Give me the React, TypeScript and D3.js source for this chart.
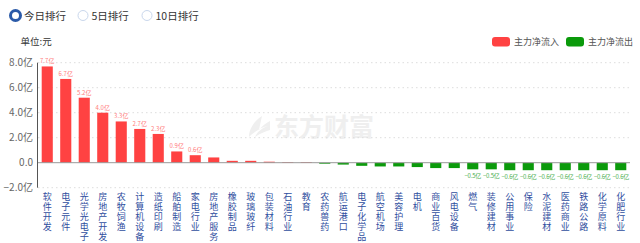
import React from "react";
import * as d3 from "d3";

const categories = [
  "软件开发", "电子元件", "光学光电子", "房地产开发", "农牧饲渔", "计算机设备", "造纸印刷", "船舶制造",
  "家电行业", "房地产服务", "橡胶制品", "玻璃玻纤", "包装材料", "石油行业", "教育", "农药兽药",
  "航运港口", "电子化学品", "航空机场", "美容护理", "电机", "商业百货", "风电设备", "燃气",
  "装修建材", "公用事业", "保险", "水泥建材", "医药商业", "铁路公路", "化学原料", "化肥行业",
];
const values = [
  7.7, 6.7, 5.2, 4.0, 3.3, 2.7, 2.3, 0.9, 0.6, 0.42, 0.15, 0.15, 0.08, 0.05, 0.05, -0.08,
  -0.15, -0.25, -0.3, -0.3, -0.35, -0.43, -0.43, -0.53, -0.53, -0.6, -0.6, -0.6, -0.6, -0.6, -0.6, -0.6,
];
const yTicks = [8, 6, 4, 2, 0, -2];
const tabs = ["今日排行", "5日排行", "10日排行"];
const legendItems = ["主力净流入", "主力净流出"];

const RED = "#ff4242";
const GREEN = "#0b9a0b";
const FONT = "'Noto Sans CJK SC', 'Noto Sans', sans-serif";

export default function App() {
  const left = 38, right = 630, top = 62.7, bottom = 187.7;
  const x = d3.scaleBand<string>().domain(categories).range([left, right]).paddingInner(0.4).paddingOuter(0.2);
  const y = d3.scaleLinear().domain([-2, 8]).range([bottom, top]);
  const fmt = (v: number) => (v === 0 ? "0.0" : d3.format(".1f")(v) + "亿");
  const tabX = [15.5, 83, 147];

  return (
    <svg width={640} height={243} style={{ position: "absolute", left: 0, top: 0 }} fontFamily={FONT}>
      <rect width={640} height={243} fill="#fff" />
      {/* tabs */}
      {tabs.map((t, i) => (
        <g key={t}>
          <circle cx={tabX[i]} cy={15.5} r={5} fill="#fff" stroke={i === 0 ? "#2b5aa8" : "#c9d7ec"} strokeWidth={i === 0 ? 3 : 1} />
          <text x={tabX[i] + 8.5} y={19.5} fontSize={10.5} fill="#333">{t}</text>
        </g>
      ))}
      <text x={20.5} y={45} fontSize={9.5} fill="#333">单位:元</text>
      {/* legend */}
      <rect x={492} y={37} width={18} height={9.5} rx={3} fill={RED} />
      <text x={514} y={45} fontSize={9} fill="#555">{legendItems[0]}</text>
      <rect x={566} y={37} width={18} height={9.5} rx={3} fill={GREEN} />
      <text x={588} y={45} fontSize={9} fill="#555">{legendItems[1]}</text>
      {/* watermark */}
      <g fill="#efefef">
        <path d="M262,116 C254,121 249,129 249,137 C255,131 262,127 268,126 C262,128 257,132 255,137 C261,133 266,131 270,130 L270,121 C266,123 262,126 259,130 C260,125 261,120 262,116 Z" />
        <text x={274} y={136} fontSize={25} fontWeight={700}>东方财富</text>
      </g>
      {/* grid */}
      {yTicks.filter((t) => t !== 0).map((t) => (
        <line key={t} x1={left} x2={right} y1={y(t)} y2={y(t)} stroke="#ddd" strokeDasharray="1.5,3" />
      ))}
      {/* y axis labels */}
      {yTicks.map((t) => (
        <text key={t} x={33} y={y(t) + 3.5} fontSize={10} fill="#666" textAnchor="end">{fmt(t)}</text>
      ))}
      {/* bars */}
      {values.map((v, i) => {
        const c = categories[i];
        const y0 = y(0), y1 = y(v);
        return (
          <rect key={c} x={x(c)} width={x.bandwidth()} y={Math.min(y0, y1)} height={Math.abs(y1 - y0)} fill={v >= 0 ? RED : GREEN} />
        );
      })}
      {/* value labels */}
      {values.map((v, i) => {
        if (i >= 9 && i < values.length - 9) return null;
        const cx = (x(categories[i]) as number) + x.bandwidth() / 2;
        return v >= 0 ? (
          <text key={i} x={cx} y={y(v) - 3} fontSize={6} fill="#ff7b7b" textAnchor="middle">{d3.format(".1f")(v) + "亿"}</text>
        ) : (
          <text key={i} x={cx} y={y(v) + 9} fontSize={6} fill="#4caf50" textAnchor="middle" letterSpacing={-0.2}>{d3.format(".1f")(v) + "亿"}</text>
        );
      })}
      {/* axes */}
      <line x1={left} x2={right} y1={y(0)} y2={y(0)} stroke="#999" />
      <line x1={left - 0.5} x2={left - 0.5} y1={top} y2={bottom} stroke="#555" />
      {/* category labels vertical */}
      {categories.map((c) => {
        const cx = (x(c) as number) + x.bandwidth() / 2;
        return (
          <g key={c}>
            {Array.from(c).map((ch, k) => (
              <text key={k} x={cx} y={200 + k * 10} fontSize={9} fill="#2f4e9e" textAnchor="middle">{ch}</text>
            ))}
          </g>
        );
      })}
    </svg>
  );
}
